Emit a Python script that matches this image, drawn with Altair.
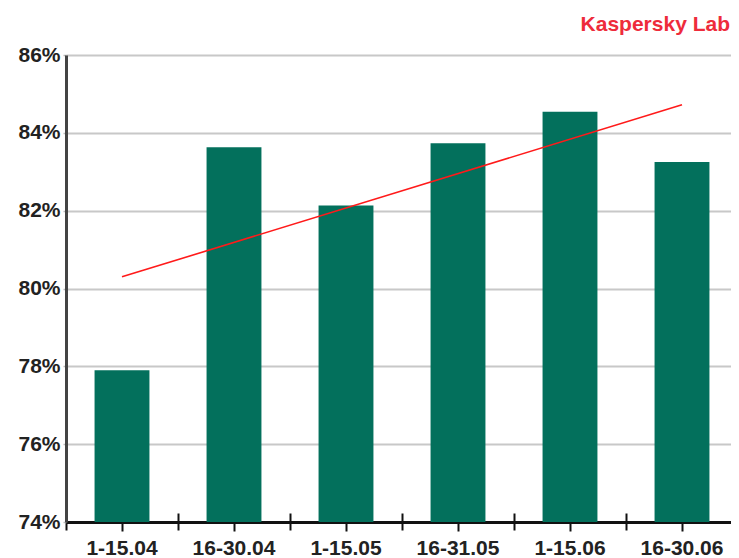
import altair as alt
import pandas as pd

periods = ["1-15.04", "16-30.04", "1-15.05", "16-31.05", "1-15.06", "16-30.06"]
shares = [77.9, 83.63, 82.13, 83.73, 84.54, 83.25]
trend_periods = ["1-15.04", "16-30.06"]
trend_values = [80.3, 84.72]
y_ticks = [74, 76, 78, 80, 82, 84, 86]

bars_df = pd.DataFrame({"period": periods, "share": shares})
trend_df = pd.DataFrame({"period": trend_periods, "share": trend_values})

FONT = "Liberation Sans"

xscale = alt.Scale(domain=periods, paddingInner=0, paddingOuter=0, range=[0, 672])
yscale = alt.Scale(domain=[74, 86], nice=False, zero=False)

bars = alt.Chart(bars_df).mark_bar(
    color="#03705c", width=alt.RelativeBandSize(0.49), clip=True
).encode(
    x=alt.X("period:N", sort=periods, scale=xscale, title=None,
            axis=alt.Axis(orient="bottom", labelAngle=0, labelFont=FONT,
                          labelFontSize=21, labelFontWeight="bold",
                          labelColor="#222222", labelPadding=6,
                          domainColor="#111111", domainWidth=3,
                          tickColor="#111111", tickWidth=2, tickSize=9,
                          grid=False, tickBand="center")),
    y=alt.Y("share:Q", scale=yscale, title=None,
            axis=alt.Axis(values=y_ticks, labelExpr="datum.value + '%'",
                          labelFont=FONT, labelFontSize=21, labelFontWeight="bold",
                          labelColor="#222222", labelPadding=3,
                          domainColor="#444444", domainWidth=3,
                          tickColor="#bbbbbb", tickSize=3, tickWidth=1.5,
                          grid=True, gridColor="#c8c8c8", gridWidth=1.8)),
)

trend = alt.Chart(trend_df).mark_line(color="#ff1a1a", strokeWidth=1.6).encode(
    x=alt.X("period:N", sort=periods, scale=xscale, title=None,
            axis=alt.Axis(orient="bottom", labels=False, domain=False, grid=False,
                          tickBand="extent", tickSize=17, tickWidth=2,
                          tickColor="#111111", offset=-9)),
    y=alt.Y("share:Q", scale=yscale, title=None),
)

chart = alt.layer(bars, trend).resolve_axis(x="independent").properties(
    width=665,
    height=467,
    autosize=alt.AutoSizeParams(type="none"),
    padding={"left": 58, "top": 47, "right": 0, "bottom": 42},
    title=alt.TitleParams("Kaspersky Lab", anchor="end", frame="group",
                          color="#ee2b3b", font=FONT, fontSize=21,
                          fontWeight="bold", offset=9, dx=-1),
).configure_view(stroke=None)

chart.save("out.html", embed_options={"renderer": "svg", "actions": False})
